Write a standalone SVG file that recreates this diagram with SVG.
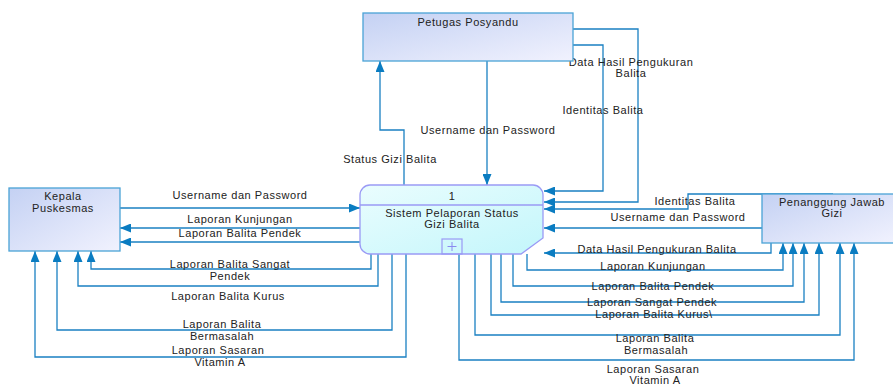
<svg xmlns="http://www.w3.org/2000/svg" width="893" height="385" viewBox="0 0 893 385">
<style>
  .lbl { font-family: "Liberation Sans", Arial, sans-serif; font-size: 11px; fill: #222; letter-spacing: 0.55px; text-anchor: middle; }
  .ent { fill: url(#entGrad); stroke: #4aa3d6; stroke-width: 1.3; }
  .proc { fill: url(#procGrad); stroke: #9a9af5; stroke-width: 1.3; }
  .con { fill: none; stroke: #1a80c2; stroke-width: 1.3; marker-end: url(#arr); }
</style>
<defs>
  <linearGradient id="entGrad" x1="0" y1="0" x2="1" y2="1">
    <stop offset="0" stop-color="#c4d1f3"/>
    <stop offset="1" stop-color="#f1f2fe"/>
  </linearGradient>
  <linearGradient id="procGrad" x1="0" y1="0" x2="1" y2="1">
    <stop offset="0" stop-color="#eafdfe"/>
    <stop offset="1" stop-color="#c3f6fb"/>
  </linearGradient>
  <marker id="arr" viewBox="0 0 11 9" refX="11" refY="4.5" markerWidth="11" markerHeight="9" markerUnits="userSpaceOnUse" orient="auto">
    <path d="M0,0 L11,4.5 L0,9 z" fill="#0a7cc1"/>
  </marker>
</defs>
<rect width="893" height="385" fill="#ffffff"/>

<g id="connectors">
  <path class="con" d="M404,185 V130 H380 V61"/>
  <path class="con" d="M487,61 V185"/>
  <path class="con" d="M573,45 H603 V191 H544"/>
  <path class="con" d="M573,29 H638 V202 H544"/>
  <path class="con" d="M833,194 H688 V209 H544"/>
  <path class="con" d="M762,228 H544"/>
  <path class="con" d="M771,243 V253 H544"/>
  <path class="con" d="M527,254 V270 H783 V243"/>
  <path class="con" d="M513,254 V286 H793 V243"/>
  <path class="con" d="M501,254 V302 H804 V243"/>
  <path class="con" d="M491,254 V315 H819 V243"/>
  <path class="con" d="M475,254 V335 H840 V243"/>
  <path class="con" d="M459,254 V360 H854 V243"/>
  <path class="con" d="M120,208 H360"/>
  <path class="con" d="M360,228 H120"/>
  <path class="con" d="M360,242 H120"/>
  <path class="con" d="M371,252 V269 H91 V251"/>
  <path class="con" d="M378,253 V286 H78 V251"/>
  <path class="con" d="M392,254 V330 H57 V251"/>
  <path class="con" d="M406,254 V357 H35 V251"/>
</g>

<g id="connector-labels">
  <text class="lbl" x="390" y="163">Status Gizi Balita</text>
  <text class="lbl" x="488" y="134">Username dan Password</text>
  <text class="lbl" x="631" y="66">Data Hasil Pengukuran</text>
  <text class="lbl" x="631" y="77">Balita</text>
  <text class="lbl" x="603" y="114">Identitas Balita</text>
  <text class="lbl" x="695" y="205">Identitas Balita</text>
  <text class="lbl" x="678" y="221">Username dan Password</text>
  <text class="lbl" x="657" y="253">Data Hasil Pengukuran Balita</text>
  <text class="lbl" x="653" y="270">Laporan Kunjungan</text>
  <text class="lbl" x="653" y="290">Laporan Balita Pendek</text>
  <text class="lbl" x="652" y="306">Laporan Sangat Pendek</text>
  <text class="lbl" x="654" y="318">Laporan Balita Kurus\</text>
  <text class="lbl" x="655" y="342">Laporan Balita</text>
  <text class="lbl" x="656" y="354">Bermasalah</text>
  <text class="lbl" x="653" y="373">Laporan Sasaran</text>
  <text class="lbl" x="655" y="384">Vitamin A</text>
  <text class="lbl" x="240" y="199">Username dan Password</text>
  <text class="lbl" x="240" y="223">Laporan Kunjungan</text>
  <text class="lbl" x="240" y="237">Laporan Balita Pendek</text>
  <text class="lbl" x="230" y="268">Laporan Balita Sangat</text>
  <text class="lbl" x="230" y="280">Pendek</text>
  <text class="lbl" x="228" y="300">Laporan Balita Kurus</text>
  <text class="lbl" x="222" y="328">Laporan Balita</text>
  <text class="lbl" x="222" y="340">Bermasalah</text>
  <text class="lbl" x="218" y="354">Laporan Sasaran</text>
  <text class="lbl" x="220" y="366">Vitamin A</text>
</g>

<g id="petugas-posyandu">
  <rect class="ent" x="363" y="13" width="210" height="48"/>
  <text class="lbl" x="468" y="26">Petugas Posyandu</text>
</g>

<g id="kepala-puskesmas">
  <rect class="ent" x="9" y="188" width="111" height="63"/>
  <text class="lbl" x="63" y="200">Kepala</text>
  <text class="lbl" x="63" y="212">Puskesmas</text>
</g>

<g id="penanggung-jawab-gizi">
  <rect class="ent" x="762" y="194" width="133" height="49"/>
  <text class="lbl" x="832" y="206">Penanggung Jawab</text>
  <text class="lbl" x="832" y="217">Gizi</text>
</g>

<g id="process-1">
  <path class="proc" d="M370,185 H533 A10,10 0 0 1 543,195 V238 L521,254 H370 A10,10 0 0 1 360,244 V195 A10,10 0 0 1 370,185 Z"/>
  <line x1="360" y1="205" x2="543" y2="205" stroke="#9a9af5" stroke-width="1.3"/>
  <text class="lbl" x="452" y="200">1</text>
  <text class="lbl" x="452" y="217">Sistem Pelaporan Status</text>
  <text class="lbl" x="452" y="228">Gizi Balita</text>
  <rect x="442" y="239" width="20" height="15" fill="none" stroke="#9a9af5" stroke-width="1.2"/>
  <path d="M452,242 V251 M447.5,246.5 H456.5" stroke="#8a8af0" stroke-width="1"/>
</g>
</svg>
